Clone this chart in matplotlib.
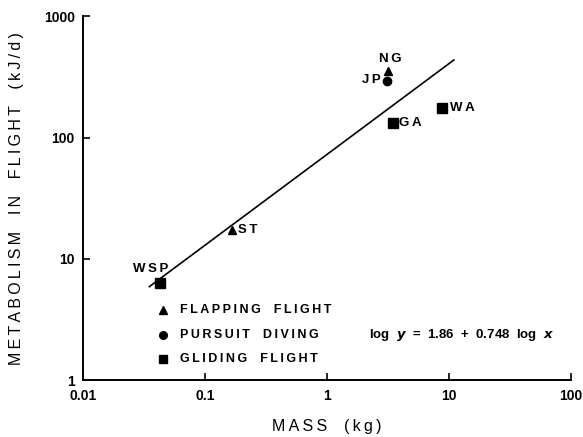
import matplotlib.pyplot as plt
import numpy as np

plt.rcParams['font.family'] = ['Liberation Sans', 'DejaVu Sans']

# birds: mass (kg), metabolism in flight (kJ/d)
names = ["NG", "JP", "GA", "WA", "ST", "WSP"]
mass = [3.2, 3.1, 3.5, 8.8, 0.166, 0.043]
metab = [350, 295, 131, 175, 17.3, 6.3]
kind = ["flap", "dive", "glide", "glide", "flap", "glide"]

markers = {"flap": "^", "dive": "o", "glide": "s"}

# regression: log y = 1.86 + 0.748 log x
a, b = 1.86, 0.748
x_fit = np.array([0.035, 11.0])
y_fit = 10 ** (a + b * np.log10(x_fit))

def spaced(s, gap="\u2009"):
    return gap.join(s).replace(gap + " " + gap, "  ")

fig = plt.figure(figsize=(5.83, 4.37), dpi=100)
ax = fig.add_axes([0.1424, 0.130, 0.8366, 0.833])

ax.plot(x_fit, y_fit, color="black", lw=1.2)

for n, x, y, k in zip(names, mass, metab, kind):
    ms = 6.5 if k == "glide" else 6
    ax.plot(x, y, marker=markers[k], color="black", ms=ms, ls="none")

lab = dict(fontsize=9.5, fontweight="bold")
ax.text(3.3, 395, spaced("NG"), ha="center", va="bottom", **lab)
ax.text(2.75, 297, spaced("JP"), ha="right", va="center", **lab)
ax.text(3.9, 131, spaced("GA"), ha="left", va="center", **lab)
ax.text(10.3, 175, spaced("WA"), ha="left", va="center", **lab)
ax.text(0.185, 17.4, spaced("ST"), ha="left", va="center", **lab)
ax.text(0.036, 7.3, spaced("WSP"), ha="center", va="bottom", **lab)

# legend drawn in the axes
leg = [("flap", "FLAPPING  FLIGHT", 3.78),
       ("dive", "PURSUIT  DIVING", 2.35),
       ("glide", "GLIDING  FLIGHT", 1.49)]
for k, t, y in leg:
    ax.plot(0.045, y, marker=markers[k], color="black",
            ms=5.5 if k != "glide" else 6, ls="none")
    ax.text(0.063, y, spaced(t), ha="left", va="center", fontsize=9,
            fontweight="bold")
ax.text(2.2, 2.35,
        r"log  $\boldsymbol{y}$  =  1.86  +  0.748  log  $\boldsymbol{x}$",
        ha="left", va="center", fontsize=9.5, fontweight="bold")

ax.set_xscale("log")
ax.set_yscale("log")
ax.set_xlim(0.01, 100)
ax.set_ylim(1, 1000)
ax.set_xticks([0.01, 0.1, 1, 10, 100])
ax.set_xticklabels(["0.01", "0.1", "1", "10", "100"])
ax.set_yticks([1, 10, 100, 1000])
ax.set_yticklabels(["1", "10", "100", "1000"])
ax.minorticks_off()
ax.tick_params(direction="in", length=5, width=1.2, labelsize=10, pad=6)
for t in ax.get_xticklabels() + ax.get_yticklabels():
    t.set_fontweight("bold")
ax.spines["top"].set_visible(False)
ax.spines["right"].set_visible(False)
ax.spines["left"].set_linewidth(1.4)
ax.spines["bottom"].set_linewidth(1.4)

ax.set_xlabel(spaced("MASS  (kg)"), fontsize=11.5, labelpad=12)
ax.set_ylabel(spaced("METABOLISM  IN  FLIGHT  (kJ/d)"), fontsize=11.5,
              labelpad=14)

plt.savefig("out.png", dpi=100)
